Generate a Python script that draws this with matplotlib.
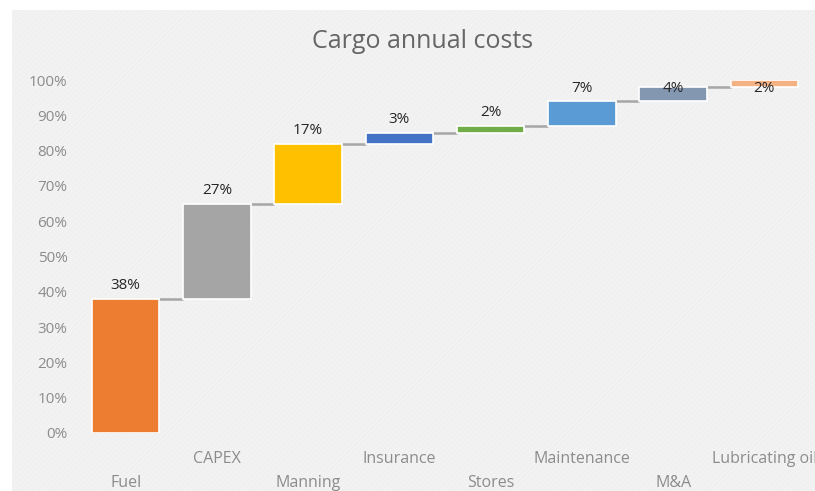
import matplotlib
matplotlib.use("Agg")
import matplotlib.pyplot as plt
from matplotlib.patches import Rectangle

categories = ["Fuel", "CAPEX", "Manning", "Insurance", "Stores", "Maintenance", "M&A", "Lubricating oil"]
values = [38, 27, 17, 3, 2, 7, 4, 2]
colors = ["#ED7D31", "#A5A5A5", "#FFC000", "#4472C4", "#70AD47", "#5B9BD5", "#8497B0", "#F4B183"]
yticks = [0, 10, 20, 30, 40, 50, 60, 70, 80, 90, 100]
ytick_labels = [f"{v}%" for v in yticks]
title = "Cargo annual costs"

plt.rcParams['font.family'] = ['Open Sans', 'DejaVu Sans']
plt.rcParams['hatch.linewidth'] = 0.3

W, H = 815, 491
fig = plt.figure(figsize=(W / 100, H / 100), dpi=100)
fig.patch.set_facecolor("white")
bg = Rectangle((12 / W, 0), 1 - 12 / W, 1 - 10 / H, transform=fig.transFigure,
               facecolor="#f2f2f2", edgecolor="#ebebeb", hatch="//////", linewidth=0, zorder=-10)
fig.patches.append(bg)

left, right, bottom, top = 80, 810, 433, 80
ax = fig.add_axes([left / W, (H - bottom) / H, (right - left) / W, (bottom - top) / H])
ax.set_facecolor("none")
ax.set_xlim(-0.5, len(categories) - 0.5)
ax.set_ylim(0, 100)
for s in ax.spines.values():
    s.set_visible(False)

width = 0.74
base = 0
tops = []
for i, (v, c) in enumerate(zip(values, colors)):
    ax.bar(i, v, bottom=base, width=width, color=c, edgecolor="white", linewidth=1.2, zorder=3)
    base += v
    tops.append(base)

for i in range(len(values) - 1):
    ax.plot([i + width / 2, i + 1 - width / 2], [tops[i], tops[i]], color="#a6a6a6", lw=1.8, zorder=2,
            solid_capstyle="butt")

for i, (v, t) in enumerate(zip(values, tops)):
    y = min(t + 3.7, 97.7)
    ax.text(i, y, f"{v}%", ha="center", va="center", fontsize=11, color="#262626", zorder=5)

ax.set_yticks(yticks)
ax.set_yticklabels(ytick_labels)
ax.tick_params(axis="y", length=0, pad=9, labelsize=11, labelcolor="#8c8c8c")
ax.set_xticks([])

for i, name in enumerate(categories):
    off = -26 if i % 2 == 1 else -50
    ax.annotate(name, xy=(i, 0), xycoords=("data", "axes fraction"),
                xytext=(0, off * 0.72), textcoords="offset points",
                ha="center", va="center", fontsize=11.5, color="#8c8c8c", annotation_clip=False)

fig.text(423 / W, 1 - 41 / H, title, ha="center", va="center", fontsize=18, color="#666666")

fig.savefig("out.png", dpi=100)
